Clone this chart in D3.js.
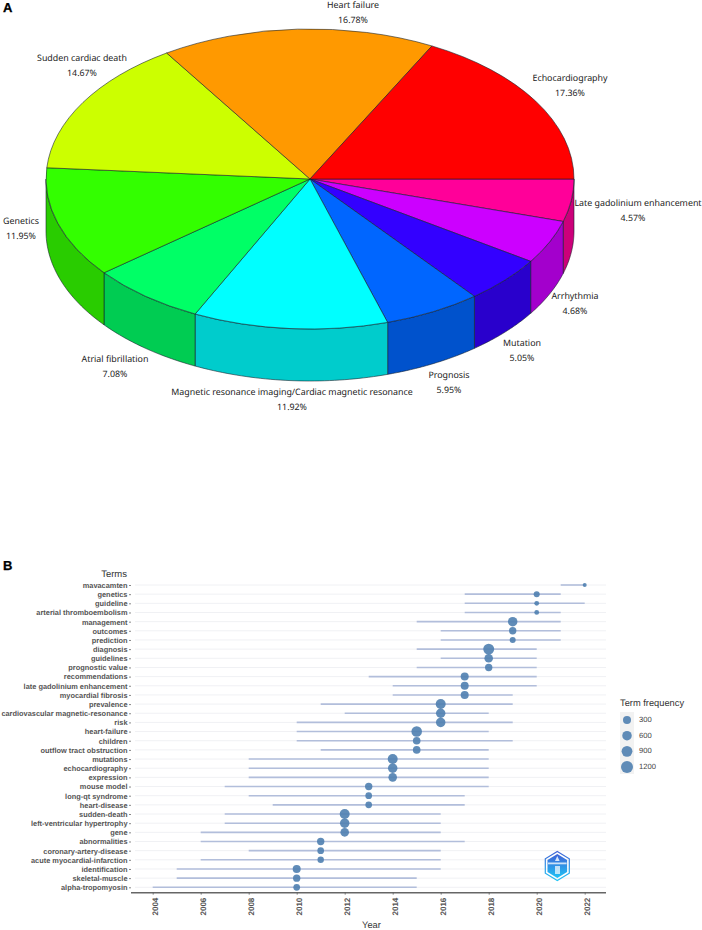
<!DOCTYPE html>
<html><head><meta charset="utf-8">
<style>html,body{margin:0;padding:0;background:#fff}svg{display:block;text-rendering:geometricPrecision}</style>
<script src="https://cdn.jsdelivr.net/npm/d3@7"></script></head>
<body><svg id="c" width="702" height="930"></svg>
<script>
// Panel A data, clockwise from the east edge of the pie
const pieLabels = ["Late gadolinium enhancement","Arrhythmia","Mutation","Prognosis","Magnetic resonance imaging/Cardiac magnetic resonance","Atrial fibrillation","Genetics","Sudden cardiac death","Heart failure","Echocardiography"];
const pieValues = [4.57,4.68,5.05,5.95,11.92,7.08,11.95,14.67,16.78,17.36];
const pieColors = ["#FF0099","#CC00FF","#3300FF","#0066FF","#00FFFF","#00FF66","#33FF00","#CCFF00","#FF9900","#FF0000"];
// Panel B data
const terms = ["mavacamten","genetics","guideline","arterial thromboembolism","management","outcomes","prediction","diagnosis","guidelines","prognostic value","recommendations","late gadolinium enhancement","myocardial fibrosis","prevalence","cardiovascular magnetic-resonance","risk","heart-failure","children","outflow tract obstruction","mutations","echocardiography","expression","mouse model","long-qt syndrome","heart-disease","sudden-death","left-ventricular hypertrophy","gene","abnormalities","coronary-artery-disease","acute myocardial-infarction","identification","skeletal-muscle","alpha-tropomyosin"];
const yearStart = [2021,2017,2017,2017,2015,2016,2016,2015,2016,2015,2013,2014,2014,2011,2012,2010,2010,2010,2011,2008,2008,2008,2007,2008,2009,2007,2007,2006,2006,2008,2006,2005,2005,2004];
const yearMedian = [2022,2020,2020,2020,2019,2019,2019,2018,2018,2018,2017,2017,2017,2016,2016,2016,2015,2015,2015,2014,2014,2014,2013,2013,2013,2012,2012,2012,2011,2011,2011,2010,2010,2010];
const yearEnd = [2022,2021,2022,2021,2021,2021,2021,2020,2020,2020,2020,2020,2019,2019,2018,2019,2018,2019,2018,2018,2018,2018,2018,2017,2017,2016,2016,2016,2017,2016,2016,2016,2015,2015];
const termFreq = [50,155,87,85,590,250,155,930,410,250,300,300,300,700,590,590,840,270,270,700,590,410,250,200,200,700,590,410,250,200,180,300,250,200];
const yearTicks = [2004,2006,2008,2010,2012,2014,2016,2018,2020,2022];
const legendFreq = [300,600,900,1200];

const svg = d3.select("#c");
const SANS = "'Liberation Sans',Arial,sans-serif";
const LABEL = "'Noto Sans',sans-serif";

// ---------- Panel A ----------
const cx=310, cy=179, rx=264, ry=150, depth=52;
const px = d3.scaleLinear([-1,1],[cx-rx,cx+rx]);
const py = d3.scaleLinear([-1,1],[cy-ry,cy+ry]);
const arcs = d3.pie().sort(null).startAngle(Math.PI/2).endAngle(Math.PI*2.5)(pieValues);
const EDGE = "rgba(20,30,40,.72)";
const A = svg.append("g");

// outer wall: only the front half of the ellipse is visible
const wall = d3.line().x(d=>d[0]).y(d=>d[1]);
arcs.forEach((a,i)=>{
  const s=Math.max(a.startAngle,Math.PI/2), e=Math.min(a.endAngle,Math.PI*1.5);
  if(e<=s) return;
  const n=40, ang=d3.range(n+1).map(k=>s+(e-s)*k/n);
  const top=ang.map(t=>[px(Math.sin(t)),py(-Math.cos(t))]);
  const bot=ang.slice().reverse().map(t=>[px(Math.sin(t)),py(-Math.cos(t))+depth]);
  const c=d3.rgb(pieColors[i]);
  A.append("path").attr("d",wall(top.concat(bot))+"Z")
    .attr("fill",d3.rgb(c.r*.8,c.g*.8,c.b*.8).formatHex())
    .attr("stroke",EDGE).attr("stroke-width",.8).attr("stroke-linejoin","round");
});
// top face
const arcGen = d3.arc().innerRadius(0).outerRadius(1);
A.append("g").attr("transform",`translate(${cx},${cy}) scale(${rx},${ry})`)
  .selectAll("path").data(arcs).join("path")
  .attr("d",arcGen).attr("fill",(d,i)=>pieColors[i])
  .attr("stroke",EDGE).attr("stroke-width",.8)
  .attr("vector-effect","non-scaling-stroke").attr("stroke-linejoin","round");

// label placement, in the same order as pieLabels
const labelAt = [[638,204,633],[575,297,575],[522,344,522],[449,376,449],[292,393,292],[115,360,115],[21,222,21],[82,59,82],[353,6,353],[570,79,570]];
pieLabels.forEach((t,i)=>{
  const [x,y,x2]=labelAt[i];
  A.append("text").attr("x",x).attr("y",y).attr("text-anchor","middle").attr("font-family",LABEL).attr("font-size",8.85).attr("fill","#222").attr("dominant-baseline","middle").text(t);
  A.append("text").attr("x",x2).attr("y",y+15).attr("text-anchor","middle").attr("font-family",LABEL).attr("font-size",8.85).attr("fill","#222").attr("dominant-baseline","middle").text(pieValues[i].toFixed(2)+"%");
});

// panel letters
[["A",3,12],["B",3,570]].forEach(([t,x,y])=>svg.append("text").attr("x",x).attr("y",y).attr("font-family",SANS).attr("font-weight",700).attr("font-size",13).attr("fill","#000").attr("stroke","#000").attr("stroke-width",.3).text(t));

// ---------- Panel B ----------
const x = d3.scaleLinear([2004,2022],[152.7,584.7]);
const y = d3.scalePoint(terms,[585,887.3]);
const area = d3.scaleLinear([50,300,1200],[4,16,36]);
const rad = f=>Math.sqrt(area(f));
const B = svg.append("g");
const axisX0=131, axisX1=606, axisY=892.7;

B.append("g").selectAll("line").data(terms).join("line")
  .attr("x1",axisX0+4).attr("x2",axisX1).attr("y1",d=>y(d)).attr("y2",d=>y(d))
  .attr("stroke","#f0f1f4").attr("stroke-width",1);

const yAxis = d3.axisLeft(y).tickSize(2).tickPadding(1.5);
const yg = B.append("g").attr("transform",`translate(${axisX0},0)`).call(yAxis);
yg.select(".domain").remove();
yg.selectAll("line").attr("stroke","#555").attr("stroke-width",.7);
yg.selectAll("text").attr("font-family",SANS).attr("font-weight",700).attr("font-size",7.4).attr("fill","#555");

const xAxis = d3.axisBottom(x).tickValues(yearTicks).tickFormat(d3.format("d")).tickSize(2);
const xg = B.append("g").attr("transform",`translate(0,${axisY})`).call(xAxis);
xg.select(".domain").attr("d",`M${axisX0},0H${axisX1}`).attr("stroke","#666").attr("stroke-width",1.6);
xg.selectAll("line").attr("stroke","#555").attr("stroke-width",.7);
xg.selectAll("text").attr("font-family",SANS).attr("font-weight",700).attr("font-size",8).attr("fill","#555")
  .attr("text-anchor","end").attr("dominant-baseline","middle")
  .attr("transform","translate(2.5,0) rotate(-90)").attr("x",-5).attr("y",0).attr("dy",null);

B.append("g").selectAll("line").data(terms).join("line")
  .attr("x1",(d,i)=>x(yearStart[i])).attr("x2",(d,i)=>x(yearEnd[i]))
  .attr("y1",d=>y(d)).attr("y2",d=>y(d))
  .attr("stroke","#b2bedb").attr("stroke-width",1.6);

B.append("g").selectAll("circle").data(terms).join("circle")
  .attr("cx",(d,i)=>x(yearMedian[i])).attr("cy",d=>y(d)).attr("r",(d,i)=>rad(termFreq[i]))
  .attr("fill","#4f7fb0").attr("fill-opacity",.9);

B.append("text").attr("x",127).attr("y",577).attr("text-anchor","end").attr("font-family",SANS).attr("font-size",9.5).attr("fill","#333").text("Terms");
B.append("text").attr("x",371.5).attr("y",927.5).attr("text-anchor","middle").attr("font-family",SANS).attr("font-size",9.3).attr("fill","#333").text("Year");

// legend
const lg = B.append("g");
lg.append("text").attr("x",620).attr("y",706).attr("font-family",SANS).attr("font-size",9.3).attr("fill","#333").text("Term frequency");
const ly = d3.scalePoint(legendFreq,[720,767]);
lg.append("rect").attr("x",620).attr("y",712).attr("width",14).attr("height",62).attr("fill","#f2f2f2");
lg.selectAll("circle").data(legendFreq).join("circle").attr("cx",627).attr("cy",d=>ly(d)).attr("r",rad).attr("fill","#4f7fb0").attr("fill-opacity",.9);
lg.selectAll("text.k").data(legendFreq).join("text").attr("class","k").attr("x",639).attr("y",d=>ly(d)).attr("dominant-baseline","middle").attr("font-family",SANS).attr("font-size",7.6).attr("fill","#444").text(d=>d);

// badge
const defs = svg.append("defs");
const gr = defs.append("linearGradient").attr("id","bd").attr("x1",0).attr("y1",0).attr("x2",0).attr("y2",1);
gr.append("stop").attr("offset",0).attr("stop-color","#3f62d6");
gr.append("stop").attr("offset",1).attr("stop-color","#1fc3f5");
const hex=(cxh,cyh,w,h)=>[[0,-h],[w,-h/2],[w,h/2],[0,h],[-w,h/2],[-w,-h/2]].map(p=>[cxh+p[0],cyh+p[1]].join(",")).join(" ");
const badge = B.append("g");
badge.append("polygon").attr("points",hex(557.3,866,12,14.5)).attr("fill","none").attr("stroke","url(#bd)").attr("stroke-width",1.2);
badge.append("polygon").attr("points",hex(557.3,866,9.8,12)).attr("fill","url(#bd)");
badge.append("rect").attr("x",548).attr("y",862.5).attr("width",18.6).attr("height",1.8).attr("fill","#fff").attr("opacity",.75);
badge.append("path").attr("d","M555,861 L557.3,856 L559.6,861 Z").attr("fill","#fff").attr("opacity",.8);
badge.append("rect").attr("x",555).attr("y",866).attr("width",5).attr("height",8).attr("fill","#fff").attr("opacity",.7);
</script></body></html>
